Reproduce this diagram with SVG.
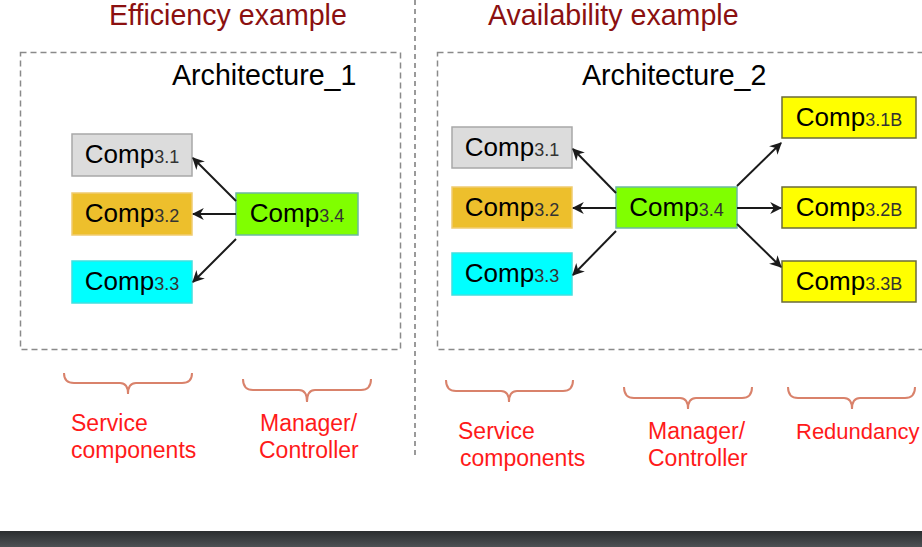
<svg xmlns="http://www.w3.org/2000/svg" width="922" height="547" viewBox="0 0 922 547">
<defs>
<marker id="ah" viewBox="0 0 10 10" refX="9" refY="5" markerWidth="6" markerHeight="6" orient="auto" markerUnits="strokeWidth">
<path d="M0,0 L10,5 L0,10 L3,5 z" fill="#1a1a1a"/>
</marker>
<linearGradient id="bar" x1="0" y1="0" x2="0" y2="1">
<stop offset="0" stop-color="#2b2e30"/>
<stop offset="1" stop-color="#4d5154"/>
</linearGradient>
</defs>
<style>
text{font-family:"Liberation Sans",Arial,sans-serif}
.title{font-size:28.6px;fill:#8b1010}
.arch{font-size:28.6px;fill:#000}
.frame{fill:none;stroke:#8a8a8a;stroke-width:1.5;stroke-dasharray:6 4}
.node text{font-size:26px;fill:#000;text-anchor:middle}
.sub{font-size:18px;fill:#333}
.n1{fill:#dcdcdc;stroke:#a8a8a8;stroke-width:1.5}
.n2{fill:#edbf2c;stroke:#f0cc70;stroke-width:1.5}
.n3{fill:#00ffff;stroke:#40e0e0;stroke-width:1.5}
.n4{fill:#80ff00;stroke:#6cb8a0;stroke-width:1.5}
.nb{fill:#ffff00;stroke:#6b6b3a;stroke-width:1.5}
.conn line{stroke:#1a1a1a;stroke-width:2;marker-end:url(#ah)}
.brace{fill:none;stroke:#d9826b;stroke-width:2}
.lbl{font-size:23px;fill:#ff1a1a}
</style>
<rect width="922" height="547" fill="#fff"/>
<line x1="415" y1="0" x2="415" y2="455" stroke="#7a7a7a" stroke-width="1.5" stroke-dasharray="5 4"/>
<text class="title" x="109" y="25">Efficiency example</text>
<text class="title" x="488" y="25">Availability example</text>
<rect class="frame" x="20.5" y="52.5" width="380" height="297"/>
<rect class="frame" x="437.5" y="52.5" width="495" height="297"/>
<text class="arch" x="172" y="85">Architecture_1</text>
<text class="arch" x="582" y="85">Architecture_2</text>

<g id="a1-comp31" class="node"><rect class="n1" x="72" y="134" width="120" height="42"/><text x="132" y="163">Comp<tspan class="sub">3.1</tspan></text></g>
<g id="a1-comp32" class="node"><rect class="n2" x="72" y="193" width="120" height="42"/><text x="132" y="222">Comp<tspan class="sub">3.2</tspan></text></g>
<g id="a1-comp33" class="node"><rect class="n3" x="72" y="261" width="120" height="42"/><text x="132" y="290">Comp<tspan class="sub">3.3</tspan></text></g>
<g id="a1-comp34" class="node"><rect class="n4" x="236" y="193" width="122" height="42"/><text x="297" y="222">Comp<tspan class="sub">3.4</tspan></text></g>

<g id="a2-comp31" class="node"><rect class="n1" x="452" y="127" width="120" height="41"/><text x="512" y="156">Comp<tspan class="sub">3.1</tspan></text></g>
<g id="a2-comp32" class="node"><rect class="n2" x="452" y="187" width="120" height="41"/><text x="512" y="216">Comp<tspan class="sub">3.2</tspan></text></g>
<g id="a2-comp33" class="node"><rect class="n3" x="452" y="253" width="120" height="42"/><text x="512" y="282">Comp<tspan class="sub">3.3</tspan></text></g>
<g id="a2-comp34" class="node"><rect class="n4" x="616" y="187" width="121" height="41"/><text x="676.5" y="216">Comp<tspan class="sub">3.4</tspan></text></g>
<g id="a2-comp31b" class="node"><rect class="nb" x="782" y="97" width="134" height="41"/><text x="849" y="126">Comp<tspan class="sub">3.1B</tspan></text></g>
<g id="a2-comp32b" class="node"><rect class="nb" x="782" y="187" width="134" height="41"/><text x="849" y="216">Comp<tspan class="sub">3.2B</tspan></text></g>
<g id="a2-comp33b" class="node"><rect class="nb" x="782" y="261" width="134" height="41"/><text x="849" y="290">Comp<tspan class="sub">3.3B</tspan></text></g>

<g id="connectors" class="conn">
<line x1="236" y1="201" x2="193" y2="158"/>
<line x1="236" y1="214" x2="193" y2="214"/>
<line x1="236" y1="239" x2="193" y2="282"/>
<line x1="616" y1="193" x2="573" y2="149"/>
<line x1="616" y1="208" x2="573" y2="208"/>
<line x1="616" y1="231" x2="573" y2="275"/>
<line x1="737" y1="186" x2="781" y2="143"/>
<line x1="737" y1="208" x2="781" y2="208"/>
<line x1="737" y1="224" x2="781" y2="267"/>
</g>

<g id="braces">
<path class="brace" d="M64,373 Q64,383 74,383 L120,383 Q128,383 128,394 Q128,383 136,383 L182,383 Q192,383 192,373"/>
<path class="brace" d="M243,379 Q243,390 253,390 L299,390 Q307,390 307,402 Q307,390 315,390 L361,390 Q371,390 371,379"/>
<path class="brace" d="M446,380 Q446,391 456,391 L501,391 Q509,391 509,402 Q509,391 517,391 L563,391 Q573,391 573,380"/>
<path class="brace" d="M624,387 Q624,398 634,398 L680,398 Q688,398 688,409 Q688,398 696,398 L742,398 Q752,398 752,387"/>
<path class="brace" d="M788,387 Q788,398 798,398 L844,398 Q852,398 852,409 Q852,398 860,398 L905,398 Q915,398 915,387"/>
</g>

<g id="labels">
<text class="lbl" x="71" y="431">Service</text>
<text class="lbl" x="71" y="458">components</text>
<text class="lbl" x="260" y="431">Manager/</text>
<text class="lbl" x="259" y="458">Controller</text>
<text class="lbl" x="458" y="439">Service</text>
<text class="lbl" x="460" y="466">components</text>
<text class="lbl" x="648" y="439">Manager/</text>
<text class="lbl" x="648" y="466">Controller</text>
<text class="lbl" x="796" y="439" style="font-size:22px">Redundancy</text>
</g>
<rect x="0" y="531" width="922" height="16" fill="url(#bar)"/>
</svg>
